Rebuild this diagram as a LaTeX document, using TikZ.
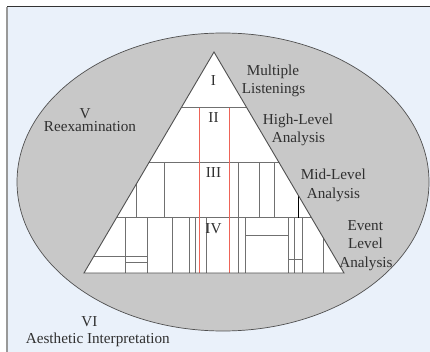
\documentclass[tikz,border=0pt]{standalone}
\usepackage{fontspec}
\setmainfont{Liberation Serif}
\definecolor{bgblue}{HTML}{EAF1FA}
\definecolor{ellfill}{HTML}{C8C8C8}
\definecolor{edge}{HTML}{505050}
\definecolor{inner}{HTML}{707070}
\definecolor{txt}{HTML}{303030}
\definecolor{accent}{RGB}{238,100,88}
\tikzset{
  lbl/.style={anchor=base,inner sep=0pt,text=txt,font=\fontsize{15.2}{18}\selectfont},
  inl/.style={draw=inner,line width=0.8pt},
  accentline/.style={draw=accent,line width=1.2pt},
}
\begin{document}
\begin{tikzpicture}[x=1pt,y=-1pt]
\useasboundingbox (0,0) rectangle (430,352);
\fill[white] (0,0) rectangle (430,352);
\fill[bgblue] (7,7) rectangle (430,352);
\draw[draw=black!80,line width=1pt] (7,7) -- (430,7);
\draw[draw=black!40,line width=1.5pt] (7,7) -- (7,352);
% ellipse
\draw[fill=ellfill,draw=edge,line width=0.7pt] (223,182) ellipse [x radius=206,y radius=149];
% triangle
\path[fill=white] (214,52) -- (84,273) -- (344,273) -- cycle;
\begin{scope}
\clip (214,52) -- (84,273) -- (344,273) -- cycle;
% level separators
\draw[inl] (100,107.25) -- (330,107.25);
\draw[inl] (100,162.5) -- (330,162.5);
\draw[inl] (100,217.75) -- (330,217.75);
% level III verticals
\foreach \x in {136,164.3,238.3,259.3,274}
  \draw[inl] (\x,162.5) -- (\x,217.75);
\draw[draw=black,line width=0.8pt] (298.3,162.5) -- (298.3,217.75);
% level IV verticals
\foreach \x in {125.7,147,172.3,189,195.5,206,238.3,245.7,288,294.5,302.3,323}
  \draw[inl] (\x,217.75) -- (\x,273);
% level IV horizontals
\draw[inl] (80,256.5) -- (147,256.5);
\draw[inl] (125.7,262.5) -- (147,262.5);
\draw[inl] (245.7,235.5) -- (288,235.5);
\draw[inl] (288,259.3) -- (302.3,259.3);
\end{scope}
% red lines
\draw[accentline] (199.3,107.6) -- (199.3,272.6);
\draw[accentline] (229.3,107.6) -- (229.3,272.6);
\draw[draw=edge,line width=0.9pt,line join=miter] (214,52) -- (84,273) -- (344,273) -- cycle;
% level labels
\node[lbl] (l1) at (213.5,85.3) {I};
\node[lbl] (l2) at (213.5,122.5) {II};
\node[lbl] (l3) at (213.5,177.5) {III};
\node[lbl] (l4) at (213.5,233.3) {IV};
% right labels
\node[lbl] (m1) at (273,76) {Multiple};
\node[lbl] (m2) at (273.5,93.7) {Listenings};
\node[lbl] (h1) at (298,125) {High-Level};
\node[lbl] (h2) at (298.5,142.7) {Analysis};
\node[lbl] (d1) at (333.3,179.3) {Mid-Level};
\node[lbl] (d2) at (333.5,198.3) {Analysis};
\node[lbl] (e1) at (365.3,230) {Event};
\node[lbl] (e2) at (365.5,248.3) {Level};
\node[lbl] (e3) at (366,267.3) {Analysis};
% left labels
\node[lbl] (v1) at (85,118.3) {V};
\node[lbl] (v2) at (90,131.3) {Reexamination};
\node[lbl] (vi1) at (89.3,326) {VI};
\node[lbl] (vi2) at (97.8,343.3) {Aesthetic Interpretation};
\end{tikzpicture}
\end{document}
